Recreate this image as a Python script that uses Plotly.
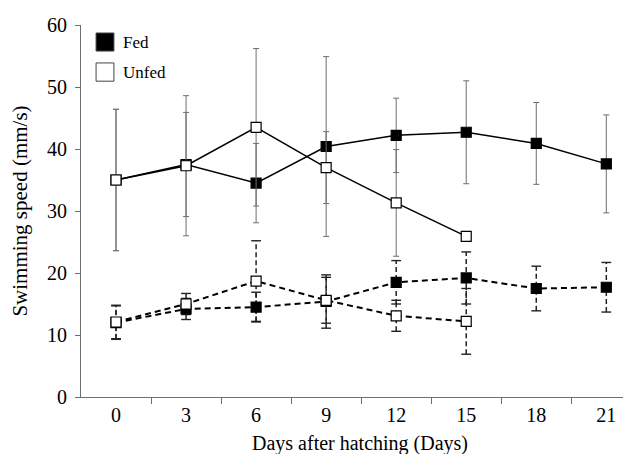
import plotly.graph_objects as go

days = [0, 3, 6, 9, 12, 15, 18, 21]
days_unfed = [0, 3, 6, 9, 12, 15]

# Upper (solid) series
fed_hi = [35.0, 37.5, 34.5, 40.4, 42.2, 42.7, 40.9, 37.6]
fed_hi_err = [11.4, 8.4, 6.4, 14.5, 6.0, 8.3, 6.6, 7.9]
unfed_hi = [35.0, 37.3, 43.5, 37.0, 31.3, 25.9]
unfed_hi_err = [11.4, 11.3, 12.7, 5.8, 8.6, 0.0]

# Lower (dashed) series
fed_lo = [12.0, 14.2, 14.5, 15.4, 18.5, 19.2, 17.5, 17.7]
fed_lo_err = [2.7, 1.7, 2.4, 4.3, 3.5, 4.2, 3.6, 4.0]
unfed_lo = [12.1, 15.0, 18.7, 15.6, 13.1, 12.2]
unfed_lo_err = [2.7, 1.7, 6.5, 3.7, 2.5, 5.3]

FONT = "Liberation Serif"
GRAY = "#6e6e6e"

fig = go.Figure()


def dashed_err(xs, ys, es):
    vx, vy, cx, cy = [], [], [], []
    for x, y, e in zip(xs, ys, es):
        vx += [x, x, None]
        vy += [y - e, y + e, None]
        cx += [x, x]
        cy += [y - e, y + e]
    fig.add_trace(go.Scatter(x=vx, y=vy, mode="lines", showlegend=False,
                             line=dict(color="#222", width=1.5, dash="5px,3px"),
                             hoverinfo="skip"))
    fig.add_trace(go.Scatter(x=cx, y=cy, mode="markers", showlegend=False,
                             marker=dict(symbol="line-ew", size=7,
                                         line=dict(color="#222", width=1.4)),
                             hoverinfo="skip"))


dashed_err(days, fed_lo, fed_lo_err)
dashed_err(days_unfed, unfed_lo, unfed_lo_err)

err_style = dict(type="data", color=GRAY, thickness=1, width=3)

fig.add_trace(go.Scatter(x=days, y=fed_hi, mode="lines+markers", name="Fed",
                         showlegend=False,
                         error_y=dict(array=fed_hi_err, **err_style),
                         line=dict(color="black", width=1.5),
                         marker=dict(symbol="square", size=10, color="black",
                                     line=dict(color="black", width=1.2))))
fig.add_trace(go.Scatter(x=days_unfed, y=unfed_hi, mode="lines+markers", name="Unfed",
                         showlegend=False,
                         error_y=dict(array=unfed_hi_err, **err_style),
                         line=dict(color="black", width=1.5),
                         marker=dict(symbol="square", size=10, color="white",
                                     line=dict(color="black", width=1.2))))
fig.add_trace(go.Scatter(x=days, y=fed_lo, mode="lines+markers", name="Fed",
                         showlegend=False,
                         line=dict(color="black", width=2, dash="6px,4px"),
                         marker=dict(symbol="square", size=10, color="black",
                                     line=dict(color="black", width=1.2))))
fig.add_trace(go.Scatter(x=days_unfed, y=unfed_lo, mode="lines+markers", name="Unfed",
                         showlegend=False,
                         line=dict(color="black", width=2, dash="6px,4px"),
                         marker=dict(symbol="square", size=10, color="white",
                                     line=dict(color="black", width=1.2))))

# Legend drawn manually (large squares)
legend_items = [("Fed", "black", 0.9785, 0.930), ("Unfed", "white", 0.898, 0.849)]
for label, fill, y1, y0 in legend_items:
    fig.add_shape(type="rect", xref="paper", yref="paper", x0=0.027, x1=0.059,
                  y0=y0, y1=y1, fillcolor=fill, line=dict(color="#444", width=1))
    fig.add_annotation(xref="paper", yref="paper", x=0.071, y=(y0 + y1) / 2,
                       text=label, showarrow=False, xanchor="left", yanchor="middle",
                       font=dict(family=FONT, size=17, color="black"))

fig.update_layout(
    width=631, height=454,
    margin=dict(l=73, r=0, t=17, b=65),
    paper_bgcolor="white", plot_bgcolor="white",
    font=dict(family=FONT, size=20, color="black"),
    showlegend=False,
)
fig.update_xaxes(
    range=[-1.5, 22.4], tickmode="array", tickvals=days,
    ticktext=[str(d) for d in days], ticks="", showgrid=False, zeroline=False,
    showline=True, linecolor=GRAY, linewidth=1,
    minor=dict(tickmode="array", tickvals=[1.5, 4.5, 7.5, 10.5, 13.5, 16.5, 19.5],
               ticks="outside", ticklen=6, tickcolor=GRAY, tickwidth=1, showgrid=False),
    title=dict(text="Days after hatching (Days)", standoff=10,
               font=dict(family=FONT, size=20)),
    tickfont=dict(family=FONT, size=20),
)
fig.update_yaxes(
    range=[0, 60], tickvals=[0, 10, 20, 30, 40, 50, 60], ticks="outside",
    ticklen=5, tickcolor=GRAY, showgrid=False, zeroline=False,
    showline=True, linecolor=GRAY, linewidth=1, ticklabelstandoff=4,
    title=dict(text="Swimming speed (mm/s)", standoff=18,
               font=dict(family=FONT, size=21)),
    tickfont=dict(family=FONT, size=20),
)

fig.write_html("out.html")
